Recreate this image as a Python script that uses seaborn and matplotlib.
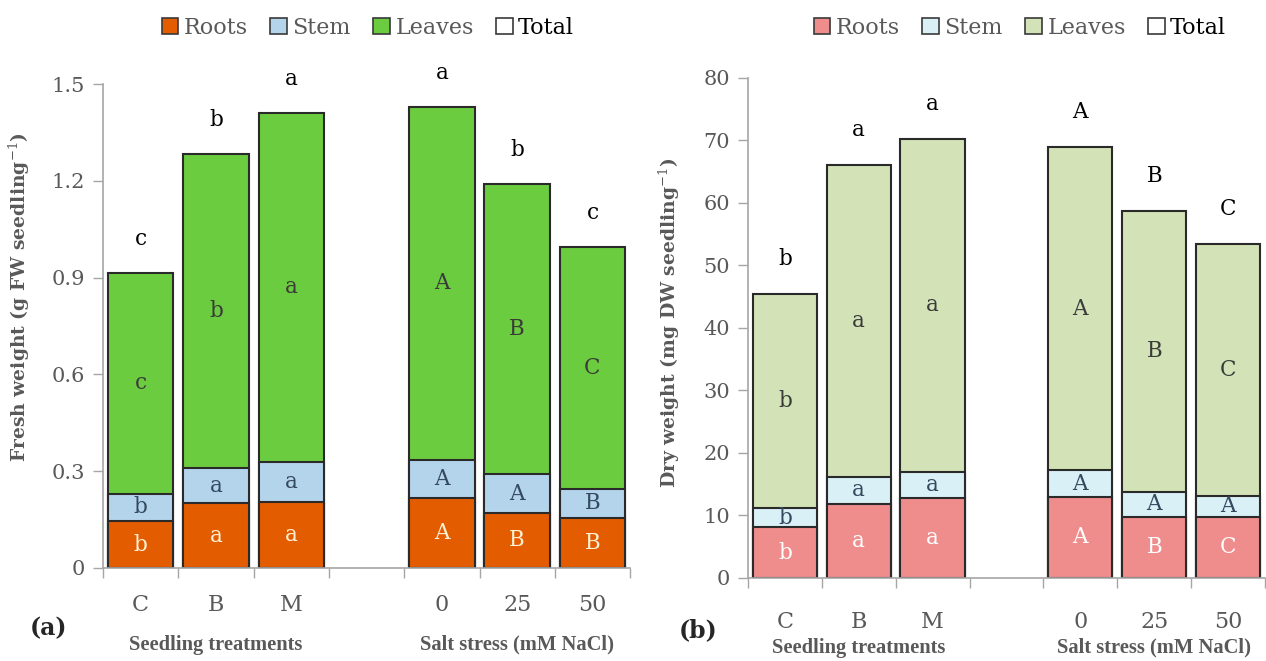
import matplotlib
matplotlib.use("Agg")
import matplotlib.pyplot as plt
from matplotlib.patches import Patch
import numpy as np
import pandas as pd
import seaborn as sns

# Treatments (a blank slot separates the two experiments)
categories = ["C", "B", "M", "0", "25", "50"]
order = ["C", "B", "M", " ", "0", "25", "50"]
group_labels = ["Seedling treatments", "Salt stress (mM NaCl)"]
parts = ["Roots", "Stem", "Leaves", "Total"]

# Fresh weight (g FW per seedling)
fw_roots = [0.145, 0.200, 0.205, 0.217, 0.171, 0.155]
fw_stem = [0.085, 0.110, 0.125, 0.118, 0.119, 0.090]
fw_leaves = [0.685, 0.973, 1.080, 1.095, 0.900, 0.750]
fw_roots_letters = ["b", "a", "a", "A", "B", "B"]
fw_stem_letters = ["b", "a", "a", "A", "A", "B"]
fw_leaves_letters = ["c", "b", "a", "A", "B", "C"]
fw_total_letters = ["c", "b", "a", "a", "b", "c"]

# Dry weight (mg DW per seedling)
dw_roots = [8.1, 11.9, 12.8, 13.0, 9.8, 9.8]
dw_stem = [3.1, 4.2, 4.2, 4.2, 4.0, 3.3]
dw_leaves = [34.3, 49.9, 53.3, 51.8, 44.9, 40.4]
dw_roots_letters = ["b", "a", "a", "A", "B", "C"]
dw_stem_letters = ["b", "a", "a", "A", "A", "A"]
dw_leaves_letters = ["b", "a", "a", "A", "B", "C"]
dw_total_letters = ["b", "a", "a", "A", "B", "C"]

sns.set_style("ticks")
plt.rcParams["font.family"] = ["DejaVu Serif"]
plt.rcParams["mathtext.fontset"] = "dejavuserif"

GRAY = "#595959"
AXGRAY = "#a6a6a6"
EDGE = "#2a2a2a"

W, H = 1266, 661
fig = plt.figure(figsize=(W / 100, H / 100), dpi=100)
ax_a = fig.add_axes([0.0814, 0.1407, 0.4163, 0.7322])
ax_b = fig.add_axes([0.5908, 0.1256, 0.4084, 0.7564])


def draw_panel(ax, roots, stem, leaves, colors, letters, ylim, yticks, ytick_fmt,
               ylabel, ylabel_xy, root_text_color, group_y, xpad, legend_x):
    roots = np.array(roots)
    stem_top = roots + np.array(stem)
    total = stem_top + np.array(leaves)
    df = pd.DataFrame({"cat": categories, "roots": roots,
                       "stem_top": stem_top, "total": total})
    for col, c in (("total", colors[2]), ("stem_top", colors[1]), ("roots", colors[0])):
        sns.barplot(data=df, x="cat", y=col, order=order, color=c, saturation=1,
                    width=0.87, edgecolor=EDGE, linewidth=1.5, errorbar=None, ax=ax)

    rl, sl, ll, tl = letters
    span = ylim[1] - ylim[0]
    for i, cat in enumerate(categories):
        x = order.index(cat)
        ax.text(x, roots[i] / 2, rl[i], ha="center", va="center", fontsize=15.5,
                color=root_text_color)
        ax.text(x, (roots[i] + stem_top[i]) / 2, sl[i], ha="center", va="center",
                fontsize=15.5, color="#34495e")
        ax.text(x, (stem_top[i] + total[i]) / 2, ll[i], ha="center", va="center",
                fontsize=15.5, color="#3a3a3a")
        ax.text(x, total[i] + 0.07 * span, tl[i], ha="center", va="center",
                fontsize=15.5, color="black")

    ax.set_xlim(-0.5, len(order) - 0.5)
    ax.set_ylim(*ylim)
    ax.set_yticks(yticks)
    ax.set_yticklabels([ytick_fmt(v) for v in yticks])
    ax.set_xticks(range(len(order)))
    ax.set_xticklabels([c.strip() for c in order])
    ax.set_xticks(np.arange(-0.5, len(order)), minor=True)
    ax.tick_params(axis="x", which="major", length=0, pad=xpad, labelsize=16,
                   labelcolor=GRAY)
    ax.tick_params(axis="x", which="minor", length=7, width=1, color=AXGRAY,
                   direction="out")
    ax.tick_params(axis="y", length=7, width=1, color=AXGRAY, labelsize=15,
                   labelcolor=GRAY, pad=6)
    ax.set_xlabel("")
    ax.set_ylabel(ylabel, fontsize=13.5, fontweight="bold", color=GRAY)
    ax.yaxis.set_label_coords(*ylabel_xy)
    sns.despine(ax=ax)
    for s in ("left", "bottom"):
        ax.spines[s].set_color(AXGRAY)
        ax.spines[s].set_linewidth(1.2)

    tr = ax.get_xaxis_transform()
    for gx, gl in zip((1, 5), group_labels):
        ax.text(gx, group_y, gl, transform=tr, ha="center", va="center",
                fontsize=14.8, fontweight="bold", color=GRAY,
                family="Liberation Serif")

    handles = [Patch(facecolor=c, edgecolor="#3a3a3a", linewidth=1.2)
               for c in list(colors) + ["white"]]
    leg = fig.legend(handles, parts, loc="center", ncol=4, frameon=False,
                     bbox_to_anchor=(legend_x / W, 1 - 28 / H), fontsize=16,
                     handlelength=0.75, handleheight=0.75, handletextpad=0.25,
                     columnspacing=1.0)
    for t in leg.get_texts():
        t.set_color(GRAY)
    leg.get_texts()[-1].set_color("black")


draw_panel(ax_a, fw_roots, fw_stem, fw_leaves,
           ("#E35D00", "#B4D4EC", "#6CCC3F"),
           (fw_roots_letters, fw_stem_letters, fw_leaves_letters, fw_total_letters),
           (0, 1.5), [0, 0.3, 0.6, 0.9, 1.2, 1.5],
           lambda v: "0" if v == 0 else f"{v:.1f}",
           "Fresh weight (g FW seedling$^{-1}$)", (-0.135, 0.56), "#FFF1D6",
           -0.159, 19, 368)

draw_panel(ax_b, dw_roots, dw_stem, dw_leaves,
           ("#EF8C8C", "#D8F0F6", "#D3E3B7"),
           (dw_roots_letters, dw_stem_letters, dw_leaves_letters, dw_total_letters),
           (0, 80), list(range(0, 81, 10)),
           lambda v: f"{v:d}",
           "Dry weight (mg DW seedling$^{-1}$)", (-0.128, 0.51), "white",
           -0.14, 24, 1020)

fig.text(48 / W, 1 - 628 / H, "(a)", fontsize=17, fontweight="bold",
         ha="center", va="center")
fig.text(698 / W, 1 - 630 / H, "(b)", fontsize=17, fontweight="bold",
         ha="center", va="center")

fig.savefig("out.png", dpi=100)
